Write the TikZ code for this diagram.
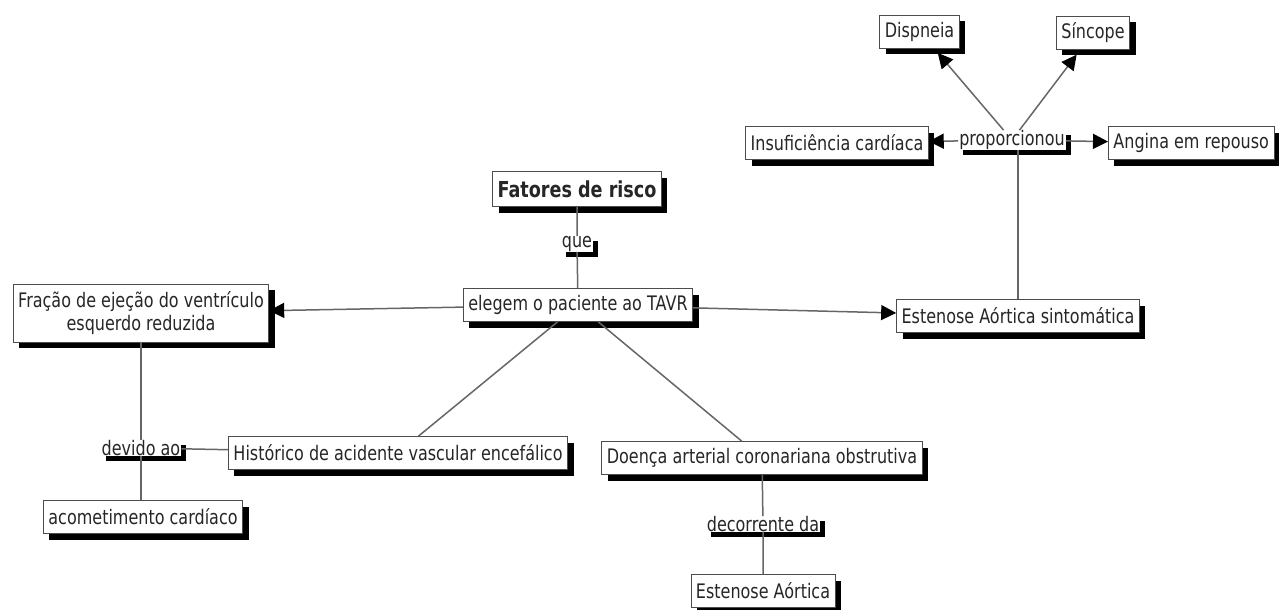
\documentclass[tikz,border=0pt]{standalone}
\usepackage{fontspec}
\setmainfont[FakeStretch=0.8]{DejaVu Sans}
\usetikzlibrary{shadows,arrows.meta}
\begin{document}
\begin{tikzpicture}[x=1pt,y=-1pt,
  concept/.style={draw=black!70, line width=0.8pt, fill=white, inner xsep=5pt, inner ysep=3pt,
    minimum height=33pt, text=black!85, font=\fontsize{20}{23}\selectfont,
    drop shadow={shadow xshift=6pt, shadow yshift=-6pt, fill=black, opacity=1}},
  link/.style={fill=white, inner xsep=1pt, inner ysep=0pt, text=black!85,
    font=\fontsize{20}{23}\selectfont,
    drop shadow={shadow xshift=5pt, shadow yshift=-5pt, fill=black, opacity=1}},
  conn/.style={draw=black!60, line width=1.5pt},
  arr/.style={conn, -{Triangle[length=15pt,width=15pt,color=black]}}
]
\useasboundingbox (0,0) rectangle (1279,610);
% concepts
\node[concept] (dis) at (919.5,31.5) {Dispneia};
\node[concept] (sin) at (1093,33) {Síncope};
\node[concept] (ins) at (837,143) {Insuficiência cardíaca};
\node[concept, anchor=west] (ang) at (1108,143) {Angina em repouso};
\node[concept, font=\fontsize{22}{25}\selectfont\bfseries, minimum height=35pt] (fat) at (577,189) {Fatores de risco};
\node[concept] (ele) at (578,305) {elegem o paciente ao TAVR};
\node[concept, align=center, minimum height=58pt] (fra) at (141,313) {Fração de ejeção do ventrículo\\esquerdo reduzida};
\node[concept] (esa) at (1018,316) {Estenose Aórtica sintomática};
\node[concept] (his) at (398,453) {Histórico de acidente vascular encefálico};
\node[concept] (aco) at (143,517) {acometimento cardíaco};
\node[concept] (doe) at (762,458) {Doença arterial coronariana obstrutiva};
\node[concept] (ea) at (763,591) {Estenose Aórtica};
% links
\node[link] (pro) at (1012,140) {proporcionou};
\node[link] (que) at (577,244) {que};
\node[link] (dev) at (141,448) {devido ao};
\node[link] (dec) at (763,524) {decorrente da};
% connectors
\draw[conn] (fat) -- (que) -- (ele);
\draw[arr] (ele) -- (fra);
\draw[arr] (ele) -- (esa);
\draw[conn] (ele) -- (his);
\draw[conn] (ele) -- (doe);
\draw[conn] (fra) -- (dev) -- (dev |- aco.north);
\draw[conn] (his) -- (dev);
\draw[conn] (doe) -- (dec) -- (ea);
\draw[conn] (esa.north) -- (esa.north |- pro.south);
\draw[arr, shorten >=6pt] (pro) -- (dis);
\draw[arr, shorten >=6pt] (pro) -- (sin);
\draw[arr] (pro) -- (ins);
\draw[arr] (pro) -- (ang);
\end{tikzpicture}
\end{document}
